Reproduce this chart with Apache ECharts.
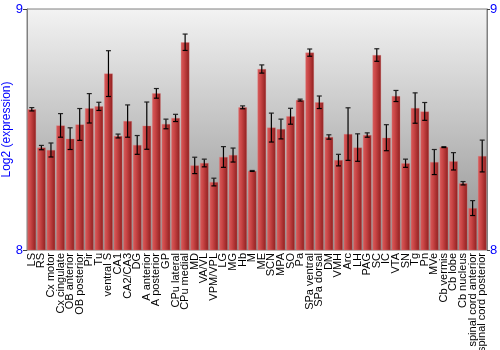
<!DOCTYPE html>
<html><head><meta charset="utf-8">
<script src="https://cdn.jsdelivr.net/npm/echarts@6/dist/echarts.min.js"></script>
<style>html,body{margin:0;padding:0;background:#fff}#c{width:500px;height:350px}</style>
</head><body><div id="c"></div>
<script>
var categories = ["LS","RS","Cx motor","Cx cingulate","OB anterior","OB posterior","Pir","Tu","ventral S","CA1","CA2/CA3","DG","A anterior","A posterior","GP","CPu lateral","CPu medial","MD","VA/VL","VPM/VPL","LG","MG","Hb","M","ME","SCN","MPA","SO","Pa","SPa ventral","SPa dorsal","DM","VMH","Arc","LH","PAG","SC","IC","VTA","SN","Tg","Pn","MVe","Cb vermis","Cb lobe","Cb nucleus","spinal cord anterior","spinal cord posterior"];
var values = [8.584,8.425,8.415,8.517,8.462,8.521,8.588,8.596,8.732,8.473,8.535,8.436,8.516,8.650,8.523,8.548,8.862,8.351,8.361,8.282,8.386,8.394,8.592,8.328,8.751,8.508,8.502,8.555,8.622,8.819,8.613,8.469,8.373,8.481,8.425,8.477,8.809,8.466,8.639,8.360,8.589,8.575,8.365,8.427,8.368,8.277,8.174,8.390];
var errors = [0.007,0.009,0.029,0.049,0.045,0.066,0.061,0.017,0.095,0.008,0.067,0.039,0.098,0.020,0.020,0.015,0.034,0.034,0.016,0.016,0.043,0.029,0.006,0.002,0.017,0.060,0.041,0.033,0.004,0.015,0.026,0.009,0.024,0.109,0.057,0.009,0.026,0.054,0.023,0.017,0.063,0.037,0.052,0.002,0.036,0.007,0.031,0.066];
var yTicks = [8, 9];

var chart = echarts.init(document.getElementById('c'), null, {renderer:'canvas'});
var errData = categories.map(function(c,i){ return [i, values[i]-errors[i], values[i]+errors[i]]; });
var blue = '#0000ff';
var font = 'Liberation Sans, Arial, sans-serif';
chart.setOption({
  animation:false,
  textStyle:{fontFamily:font},
  grid:{left:27,right:13,top:9,bottom:100,containLabel:false,outerBoundsMode:'none',show:true,borderColor:'#808080',borderWidth:1,
    backgroundColor:new echarts.graphic.LinearGradient(0,0,0,1,[{offset:0,color:'#f3f3f3'},{offset:1,color:'#8e8e8e'}])},
  xAxis:{type:'category',data:categories,
    axisLine:{show:false},axisTick:{show:false},splitLine:{show:false},
    axisLabel:{interval:0,rotate:90,color:'#000',fontSize:11,margin:3,fontFamily:font}},
  yAxis:[
    {type:'value',min:yTicks[0],max:yTicks[1],interval:1,position:'left',
     name:'Log2 (expression)',nameLocation:'middle',nameGap:14,nameMoveOverlap:false,
     nameTextStyle:{color:blue,fontSize:12,fontFamily:font},
     axisLine:{show:true,lineStyle:{color:'#808080'}},axisTick:{show:true,length:4,lineStyle:{color:'#404040'}},
     splitLine:{show:false},axisLabel:{color:blue,fontSize:13,margin:4,fontFamily:font}},
    {type:'value',min:yTicks[0],max:yTicks[1],interval:1,position:'right',
     axisLine:{show:true,lineStyle:{color:'#808080'}},axisTick:{show:true,length:3,lineStyle:{color:'#404040'}},
     splitLine:{show:false},axisLabel:{color:blue,fontSize:13,margin:3,fontFamily:font}}
  ],
  series:[
    {type:'bar',data:values,barCategoryGap:'10%',
     itemStyle:{borderColor:'rgba(225,130,130,0.6)',borderWidth:0.5,
       color:new echarts.graphic.LinearGradient(0,0,1,0,[{offset:0,color:'#d85c5c'},{offset:0.35,color:'#ca4646'},{offset:1,color:'#8e1e1e'}])}},
    {type:'custom',data:errData,z:10,
     renderItem:function(params,api){
       var x=api.value(0), lo=api.coord([x,api.value(1)]), hi=api.coord([x,api.value(2)]);
       var w=2.5;
       return {type:'group',children:[
         {type:'line',shape:{x1:lo[0],y1:lo[1],x2:hi[0],y2:hi[1]},style:{stroke:'#000',lineWidth:1.2}},
         {type:'line',shape:{x1:hi[0]-w,y1:hi[1],x2:hi[0]+w,y2:hi[1]},style:{stroke:'#222',lineWidth:1.2}},
         {type:'line',shape:{x1:lo[0]-w,y1:lo[1],x2:lo[0]+w,y2:lo[1]},style:{stroke:'#000',lineWidth:1.2}}
       ]};
     }}
  ]
});
</script></body></html>
